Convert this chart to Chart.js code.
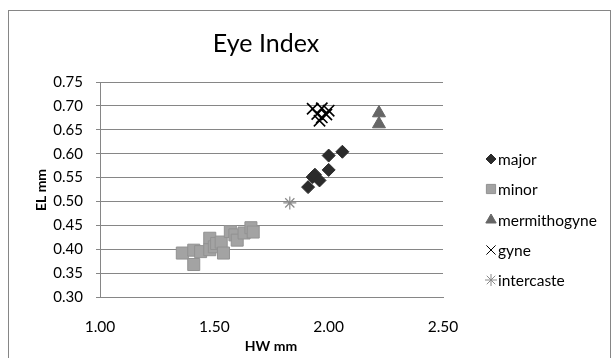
<!DOCTYPE html>
<html>
<head>
<meta charset="utf-8">
<script src="https://cdn.jsdelivr.net/npm/chart.js@4"></script>
<style>
html, body { margin: 0; padding: 0; background: #fff; }
#wrap { width: 612px; height: 358px; }
</style>
</head>
<body>
<div id="wrap"><canvas id="eyeChart" width="612" height="358"></canvas></div>
<script>
// Eye Index: head width (HW) vs eye length (EL), mm
const majorHW = [1.91, 1.93, 1.94, 1.96, 2.00, 2.00, 2.06];
const majorEL = [0.530, 0.551, 0.556, 0.544, 0.566, 0.596, 0.604];

const minorHW = [1.36, 1.41, 1.41, 1.44, 1.48, 1.48, 1.50, 1.51, 1.53, 1.54, 1.57, 1.59, 1.60, 1.63, 1.66, 1.67];
const minorEL = [0.392, 0.368, 0.398, 0.395, 0.423, 0.399, 0.405, 0.412, 0.415, 0.392, 0.437, 0.430, 0.419, 0.434, 0.445, 0.436];

const mermHW = [2.22, 2.22];
const mermEL = [0.685, 0.662];

const gyneHW = [1.93, 1.95, 1.97, 1.99, 1.96, 2.00, 1.97];
const gyneEL = [0.694, 0.683, 0.695, 0.682, 0.669, 0.690, 0.676];

const interHW = [1.83];
const interEL = [0.497];

const xTicks = [1.00, 1.50, 2.00, 2.50];
const yTicks = [0.30, 0.35, 0.40, 0.45, 0.50, 0.55, 0.60, 0.65, 0.70, 0.75];

const FONT = 'Lato, "Open Sans", sans-serif';
const GRID = '#868686';

function toPoints(xs, ys) {
    return xs.map((x, i) => ({ x: x, y: ys[i] }));
}

// title, axis titles, legend and outer frame
const decorations = {
    id: 'decorations',
    afterDraw(chart) {
        const ctx = chart.ctx;
        ctx.save();

        // outer frame
        ctx.strokeStyle = GRID;
        ctx.lineWidth = 1;
        ctx.strokeRect(8.5, 10.5, 602, 360);

        ctx.fillStyle = '#000';
        ctx.textAlign = 'center';
        ctx.textBaseline = 'middle';

        ctx.font = '25px ' + FONT;
        ctx.fillText('Eye Index', 266, 44);

        ctx.font = 'bold 14px ' + FONT;
        ctx.fillText('HW mm', 271, 346);

        ctx.save();
        ctx.translate(41, 190);
        ctx.rotate(-Math.PI / 2);
        ctx.fillText('EL mm', 0, 0);
        ctx.restore();

        // legend
        const rowY = [159, 189, 220, 250, 280];
        ctx.font = '15.5px ' + FONT;
        ctx.textAlign = 'left';
        chart.data.datasets.forEach((ds, i) => {
            const y = rowY[i];
            ctx.fillStyle = ds.backgroundColor;
            ctx.strokeStyle = ds.borderColor;
            ctx.lineWidth = ds.legendBorder;
            Chart.helpers.drawPoint(ctx, {
                pointStyle: ds.pointStyle,
                radius: ds.legendRadius,
                rotation: 0,
                borderWidth: ds.legendBorder
            }, 491, y);
            ctx.fillStyle = '#000';
            ctx.fillText(ds.label, 498, y + 1);
        });

        ctx.restore();
    }
};

const data = {
    datasets: [
        {
            label: 'major',
            data: toPoints(majorHW, majorEL),
            pointStyle: 'rectRot',
            pointRadius: 6.5,
            legendRadius: 5,
            legendBorder: 1,
            backgroundColor: '#2b2b2b',
            borderColor: '#2b2b2b',
            borderWidth: 1
        },
        {
            label: 'minor',
            data: toPoints(minorHW, minorEL),
            pointStyle: 'rect',
            pointRadius: 8.5,
            legendRadius: 6.5,
            legendBorder: 1,
            backgroundColor: '#a3a3a3',
            borderColor: '#929292',
            borderWidth: 1
        },
        {
            label: 'mermithogyne',
            data: toPoints(mermHW, mermEL),
            pointStyle: 'triangle',
            pointRadius: 7.5,
            legendRadius: 6,
            legendBorder: 1,
            backgroundColor: '#666666',
            borderColor: '#666666',
            borderWidth: 1
        },
        {
            label: 'gyne',
            data: toPoints(gyneHW, gyneEL),
            pointStyle: 'crossRot',
            pointRadius: 8,
            legendRadius: 6.5,
            legendBorder: 1,
            backgroundColor: '#000000',
            borderColor: '#000000',
            borderWidth: 1.6
        },
        {
            label: 'intercaste',
            data: toPoints(interHW, interEL),
            pointStyle: 'star',
            pointRadius: 6.5,
            legendRadius: 6,
            legendBorder: 1,
            backgroundColor: '#8a8a8a',
            borderColor: '#8a8a8a',
            borderWidth: 1.2
        }
    ]
};

const config = {
    type: 'scatter',
    data: data,
    options: {
        responsive: false,
        animation: false,
        events: [],
        layout: {
            padding: { left: 0, top: 82, right: 169, bottom: 0 }
        },
        plugins: {
            legend: { display: false },
            title: { display: false },
            tooltip: { enabled: false }
        },
        scales: {
            x: {
                type: 'linear',
                min: xTicks[0],
                max: xTicks[xTicks.length - 1],
                afterBuildTicks: s => { s.ticks = xTicks.map(v => ({ value: v })); },
                afterFit: s => { s.height = 61; },
                grid: { display: false },
                border: { display: true, color: GRID, width: 1 },
                ticks: {
                    color: '#000',
                    padding: 13,
                    maxRotation: 0,
                    font: { family: FONT, size: 15.5 },
                    callback: v => Number(v).toFixed(2)
                }
            },
            y: {
                type: 'linear',
                min: yTicks[0],
                max: yTicks[yTicks.length - 1],
                afterBuildTicks: s => { s.ticks = yTicks.map(v => ({ value: v })); },
                afterFit: s => { s.width = 100; },
                grid: {
                    color: GRID,
                    lineWidth: 1,
                    drawTicks: true,
                    tickLength: 4
                },
                border: { display: true, color: GRID, width: 1 },
                ticks: {
                    color: '#000',
                    padding: 13,
                    font: { family: FONT, size: 15 },
                    callback: v => Number(v).toFixed(2)
                }
            }
        }
    },
    plugins: [decorations]
};

const eyeChart = new Chart(document.getElementById('eyeChart'), config);
</script>
</body>
</html>
